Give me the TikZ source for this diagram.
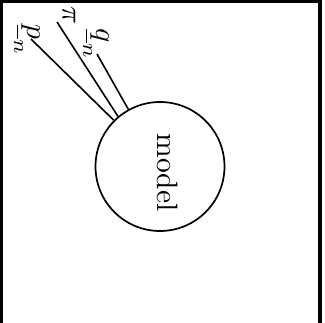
\documentclass[tikz,border=0pt]{standalone}
\usepackage{fontspec}
\begin{document}
\begin{tikzpicture}[x=1pt,y=-1pt,
  frame/.style={line width=3.2pt},
  ball/.style={circle,draw,line width=1.7pt,minimum size=129pt,inner sep=0pt},
  wire/.style={line width=1.6pt},
  sidelabel/.style={rotate=-90,scale=2.95,inner sep=0pt}]
\useasboundingbox (0,0) rectangle (325,323);
% open frame (no bottom edge)
\draw[frame] (1.6,323) -- (1.6,1.6) -- (320,1.6) -- (320,323);
% the model
\node[ball] (model) at (160,166.5) {};
\node[sidelabel] (mtext) at (168,172.5) {model};
% input labels
\node[sidelabel] (p) at (27,40) {$\underline{p}_n$};
\node[sidelabel] (pi) at (69,15) {$\pi$};
\node[sidelabel] (q) at (96,44) {$\underline{q}_n$};
% wire ends near the labels
\coordinate (pe) at (31,39);
\coordinate (pie) at (57,22);
\coordinate (qe) at (97,54);
\draw[wire] (pe) -- (model.135.3);
\draw[wire] (pie) -- (model.130.2);
\draw[wire] (qe) -- (model.119.5);
\end{tikzpicture}
\end{document}
